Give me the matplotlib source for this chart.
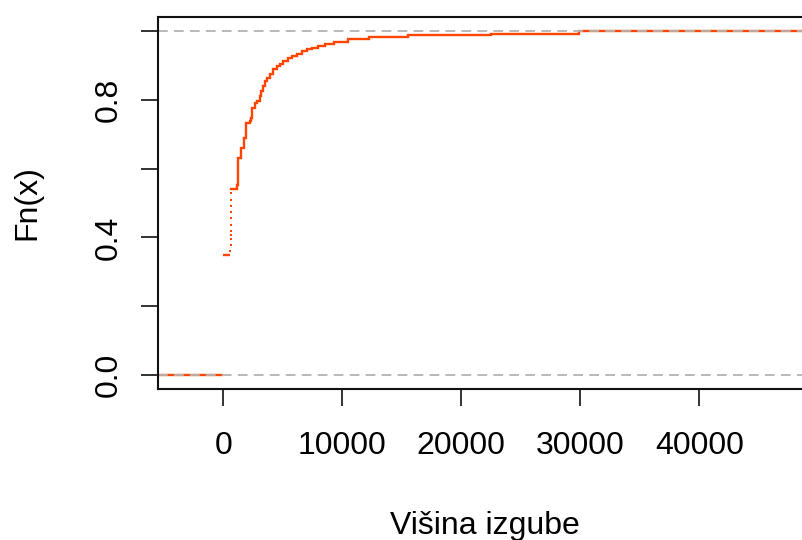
import matplotlib
matplotlib.use("Agg")
import matplotlib.pyplot as plt
import numpy as np

plt.rcParams['font.family'] = ['Liberation Sans', 'DejaVu Sans']
plt.rcParams['lines.scale_dashes'] = False

# ECDF of "Višina izgube"
first_knot = 0
first_level = 0.349

# densely packed small jumps (appear dotted)
dense_knots = [600, 606, 612, 618, 624, 630, 636, 642, 648, 654, 660]
dense_levels = [0.362, 0.378, 0.395, 0.408, 0.418, 0.436, 0.455, 0.474, 0.492, 0.510, 0.528]

step_knots = [665, 1176, 1235, 1462, 1739, 1933, 2218, 2353, 2412, 2639, 2857, 3059,
              3193, 3300, 3504, 3647, 3924, 4202, 4487, 4765, 5042, 5462, 5748, 6168,
              6588, 7008, 7429, 7983, 8546, 9300, 10448, 12269, 15490, 22493, 29916]
step_levels = [0.542, 0.552, 0.630, 0.659, 0.688, 0.732, 0.737, 0.746, 0.776, 0.790,
               0.795, 0.810, 0.824, 0.839, 0.853, 0.863, 0.875, 0.888, 0.897, 0.904,
               0.912, 0.920, 0.926, 0.933, 0.941, 0.946, 0.951, 0.956, 0.963, 0.968,
               0.975, 0.982, 0.987, 0.992, 1.0]

x_ticks = [0, 10000, 20000, 30000, 40000]
y_ticks = [0.0, 0.2, 0.4, 0.6, 0.8, 1.0]
y_ticklabels = ['0.0', '', '0.4', '', '0.8', '']

W, H = 803, 540
fig = plt.figure(figsize=(W / 100, H / 100), dpi=100)
ax = fig.add_axes([158 / W, 1 - 389 / H, 654 / W, (389 - 17) / H])

xmin, xmax = -5487, 49471
ax.set_xlim(xmin, xmax)
ax.set_ylim(-0.04, 1.04)

red = '#FF4500'
lw = 1.7
# zero part
ax.hlines(0, xmin, first_knot, color=red, lw=lw)
# first level
ax.hlines(first_level, first_knot, dense_knots[0], color=red, lw=lw)
# dense part: tiny horizontal segments, rendered as short dashes
ax.plot(dense_knots, dense_levels, linestyle='none', marker='s', markersize=1.7,
        markeredgewidth=0, color=red)
# main step curve
xs = list(step_knots) + [xmax]
ys = list(step_levels) + [step_levels[-1]]
ax.step(xs, ys, where='post', color=red, lw=lw, solid_joinstyle='miter')

# reference lines
for yv in (0, 1):
    ax.axhline(yv, color='#B3B3B3', lw=1.3, linestyle=(0, (7.0, 4.5)))

ax.set_xticks(x_ticks)
ax.set_xticklabels([str(v) for v in x_ticks])
ax.set_yticks(y_ticks)
ax.set_yticklabels(y_ticklabels, rotation=90, va='center')

ax.tick_params(axis='both', length=12.5, width=1.2, labelsize=23, color='#111111')
ax.tick_params(axis='x', pad=18)
ax.tick_params(axis='y', pad=12)

for s in ax.spines.values():
    s.set_linewidth(1.5)
    s.set_color('#111111')
ax.spines['right'].set_visible(False)

ax.set_xlabel('Višina izgube', fontsize=23, labelpad=36)
ax.set_ylabel('Fn(x)', fontsize=23, labelpad=37)

fig.savefig('out.png', dpi=100)
